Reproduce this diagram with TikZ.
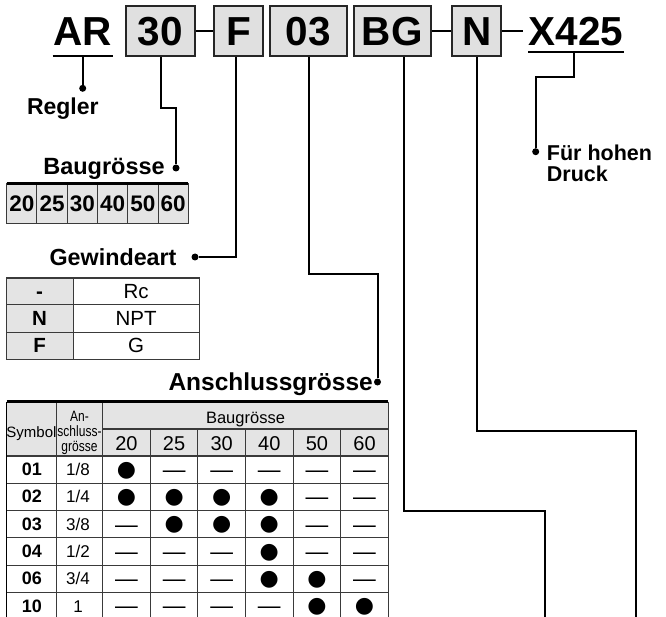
\documentclass[tikz,border=0pt]{standalone}
\usepackage{fontspec}
\setmainfont{Liberation Sans}
\newfontfamily\symfont{DejaVu Sans}
\newfontfamily\narrowfont[FakeStretch=0.8]{Liberation Sans}
\newcommand\fsz[1]{\fontsize{#1}{#1}\selectfont}
\definecolor{boxgray}{HTML}{E0E0E0}
\definecolor{tabgray}{HTML}{E4E4E4}
\definecolor{linegray}{HTML}{3A3A3A}
\tikzset{
  conn/.style={line width=2pt, black},
  dotn/.style={circle, fill=black, inner sep=0pt, minimum size=7pt},
  codebox/.style={draw=black!85, line width=2pt, fill=boxgray, inner xsep=0pt, inner ysep=10pt,
    text height=29.5pt, text depth=0pt, font=\fsz{40.5}\bfseries, anchor=base},
  codetxt/.style={inner sep=0pt, font=\fsz{40.5}\bfseries, anchor=base},
  lbl/.style={inner sep=0pt, anchor=base},
  szcell/.style={draw=linegray, line width=1pt, fill=tabgray, minimum width=30.27pt,
    minimum height=40pt, inner sep=0pt, font=\fsz{22.5}\bfseries},
  gcell/.style={draw=linegray, line width=1pt, minimum height=27pt, inner sep=0pt,
    text height=14.7pt, text depth=0pt},
  tline/.style={linegray, line width=1.1pt},
  symtxt/.style={inner sep=0pt, anchor=base, font=\fsz{18}\bfseries},
  fractxt/.style={inner sep=0pt, anchor=base, font=\fsz{17}},
  dotmark/.style={inner sep=0pt, font=\symfont\fsz{22}},
  dashmark/.style={inner sep=0pt, anchor=base, font=\fsz{22.7}},
}
\newcommand\tmark[4]{%
  \if#4D\node[dotmark] (#1) at (#2,#3+14.5) {●};%
  \else\node[dashmark] (#1) at (#2,#3+21.4) {—};\fi}
\newcommand\trow[9]{%
  \pgfmathsetmacro\rowtop{456+27.3*#1}%
  \node[symtxt] (sym#1) at (32,\rowtop+19.5) {#2};%
  \node[fractxt] (fr#1) at (78,\rowtop+19.5) {#3};%
  \tmark{ma#1}{126.5}{\rowtop}{#4}%
  \tmark{mb#1}{174.1}{\rowtop}{#5}%
  \tmark{mc#1}{221.7}{\rowtop}{#6}%
  \tmark{md#1}{269.3}{\rowtop}{#7}%
  \tmark{me#1}{316.9}{\rowtop}{#8}%
  \tmark{mf#1}{364.5}{\rowtop}{#9}%
}
\begin{document}
\begin{tikzpicture}[x=1pt,y=-1pt]
\useasboundingbox (0,0) rectangle (666,617);
\fill[white] (0,0) rectangle (666,617);

% ---- code line
\node[codetxt] (AR) at (82.5,46) {AR};
\node[codebox, minimum width=69pt] (b30) at (160.5,46) {30};
\node[codebox, minimum width=49pt] (bF) at (238.8,46) {F};
\node[codebox, minimum width=77pt] (b03) at (308.5,46) {03};
\node[codebox, minimum width=77pt] (bBG) at (392.2,46) {BG};
\node[codebox, minimum width=49pt] (bN) at (476.8,46) {N};
\node[codetxt] (X) at (575.8,46) {X425};
\draw[conn] (52.7,56) -- (112.7,56);
\draw[conn] (528,51.7) -- (623.7,51.7);
\draw[conn] (b30) -- (bF);
\draw[conn] (bBG) -- (bN);
\coordinate (Xd) at (523,31.25);
\draw[conn] (bN.east) -- (Xd);

% ---- dots and free ends
\node[dotn] (dR) at (82.7,88.3) {};
\node[dotn] (dB) at (176,168) {};
\node[dotn] (dG) at (195,257) {};
\node[dotn] (dA) at (377.5,382) {};
\node[dotn] (dX) at (535.7,151.7) {};
\coordinate (ARu) at (82.7,56);
\coordinate (Xu) at (574,51.7);
\coordinate (eBG) at (545,617);
\coordinate (eN) at (635.7,617);

% ---- connectors
\draw[conn] (ARu) -- (dR);
\draw[conn] (b30.south) |- (176,108.3) -- (dB);
\draw[conn] ([xshift=-3pt]bF.south) |- (dG);
\draw[conn] (b03.south) |- (377.5,274.3) -- (dA);
\draw[conn] ([xshift=11.3pt]bBG.south) |- (545,510.7) -- (eBG);
\draw[conn] (bN.south) |- (635.7,431) -- (eN);
\draw[conn] (Xu) |- (535.7,76.7) -- (dX);

% ---- labels
\node[lbl, font=\fsz{23}\bfseries] (regler) at (62.8,114.5) {Regler};
\node[lbl, anchor=base east, font=\fsz{23.5}\bfseries] (lbau) at (165,175) {Baugrösse};
\node[lbl, anchor=base east, font=\fsz{23.3}\bfseries] (lgew) at (176.7,265.7) {Gewindeart};
\node[lbl, anchor=base east, font=\fsz{24.5}\bfseries] (lans) at (373,390) {Anschlussgrösse};
\node[inner sep=0pt, anchor=north west, align=left, font=\fontsize{21.5}{21}\selectfont\bfseries] (lhoch) at (546.7,145) {Für hohen\\Druck};

% ---- Baugrösse table
\foreach \v [count=\i from 0] in {20,25,30,40,50,60}
  \node[szcell] (sz\v) at (6.7+30.27*\i+15.13,203.3) {\v};
\draw[black, line width=2.5pt] (6.7,183.3) -- (188.3,183.3);

% ---- Gewindeart table
\foreach \a/\b [count=\i from 0] in {-/Rc, N/NPT, F/G} {
  \node[gcell, minimum width=67.3pt, fill=tabgray, font=\fsz{20.5}\bfseries] (ga\i) at (39.65,291.5+27*\i) {\a};
  \node[gcell, minimum width=125.7pt, font=\fsz{20.5}] (gb\i) at (136.15,291.5+27*\i) {\b};
}
\draw[linegray, line width=1.6pt] (6,278) -- (199,278);

% ---- Anschlussgrösse table
\fill[tabgray] (6.7,401.7) rectangle (388.3,456);
\draw[tline] (56.3,401.7) -- (56.3,617);
\draw[tline] (102.7,401.7) -- (102.7,617);
\foreach \x in {150.3,197.9,245.5,293.1,340.7}
  \draw[tline] (\x,429) -- (\x,617);
\draw[tline] (388.3,401.7) -- (388.3,617);
\draw[black, line width=1.4pt] (6.7,401.7) -- (6.7,617);
\draw[tline] (102.7,429) -- (388.3,429);
\foreach \y in {456,483.3,510.6,537.9,565.2,592.5}
  \draw[tline] (6.7,\y) -- (388.3,\y);
\draw[black, line width=2.5pt] (6.7,401.7) -- (388.3,401.7);

\node[lbl, font=\fsz{15}] (hsym) at (31.5,437.3) {Symbol};
\node[inner sep=0pt, anchor=north, align=center, font=\narrowfont\fontsize{15}{15}\selectfont] (hans) at (79.5,410.5) {An-\\schluss-\\grösse};
\node[lbl, font=\fsz{16.5}] (hbau) at (245.5,423.3) {Baugrösse};
\foreach \v/\x in {20/126.5,25/174.1,30/221.7,40/269.3,50/316.9,60/364.5}
  \node[lbl, font=\fsz{20}] (h\v) at (\x,450) {\v};

\trow{0}{01}{1/8}{D}{N}{N}{N}{N}{N}
\trow{1}{02}{1/4}{D}{D}{D}{D}{N}{N}
\trow{2}{03}{3/8}{N}{D}{D}{D}{N}{N}
\trow{3}{04}{1/2}{N}{N}{N}{D}{N}{N}
\trow{4}{06}{3/4}{N}{N}{N}{D}{D}{N}
\trow{5}{10}{1}{N}{N}{N}{N}{D}{D}
\end{tikzpicture}
\end{document}
